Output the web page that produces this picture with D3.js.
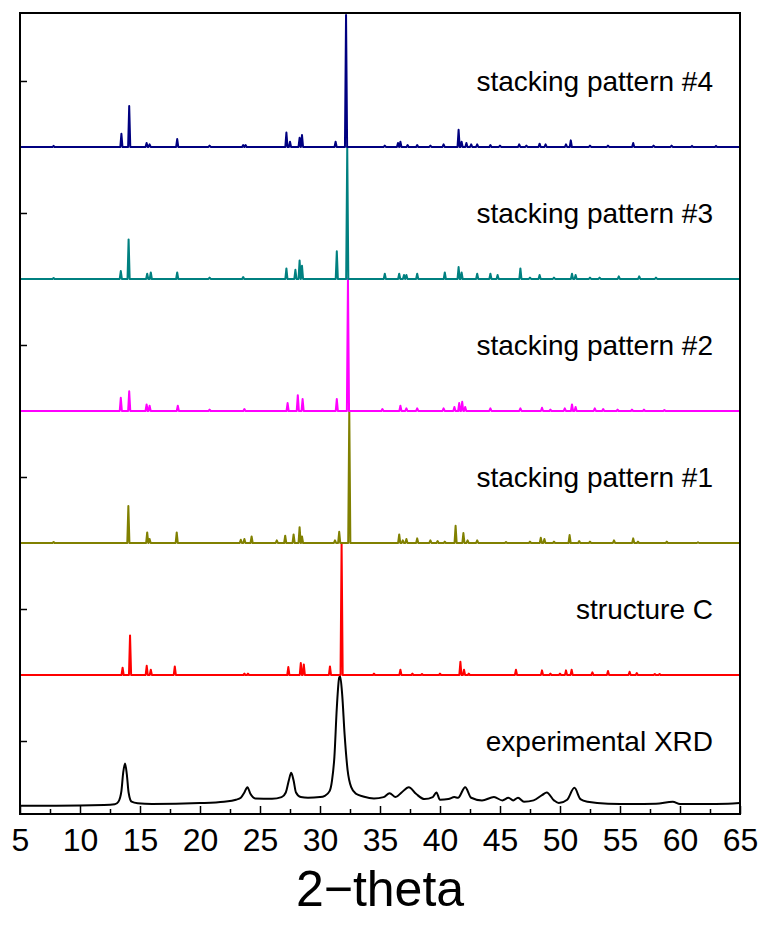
<!DOCTYPE html>
<html>
<head>
<meta charset="utf-8">
<script src="https://cdn.jsdelivr.net/npm/d3@7"></script>
<style>
  body { margin: 0; background: #fff; }
  text { font-family: Arial, "Liberation Sans", sans-serif; }
</style>
</head>
<body>
<div id="chart"></div>
<script>
// x ticks (2-theta)
var majorTicks = [5, 10, 15, 20, 25, 30, 35, 40, 45, 50, 55, 60, 65];
var minorTicks = [7.5, 12.5, 17.5, 22.5, 27.5, 32.5, 37.5, 42.5, 47.5, 52.5, 57.5, 62.5];
var yTicks = [0.5, 1.5, 2.5, 3.5, 4.5, 5.5];

// simulated patterns: [2-theta, relative intensity]
var pattern4Peaks = [[7.8,0.008],[13.45,0.10],[14.1,0.31],[15.55,0.03],[15.8,0.02],[18.1,0.06],[20.8,0.01],[23.6,0.015],[23.8,0.015],
  [27.2,0.11],[27.5,0.04],[28.3,0.07],[28.5,0.09],[31.3,0.04],[32.17,1.0],[35.4,0.01],[36.5,0.03],[36.7,0.04],[37.3,0.015],
  [38.1,0.015],[39.2,0.01],[40.3,0.02],[41.55,0.13],[41.8,0.04],[42.2,0.03],[42.6,0.02],[43.1,0.02],[44.2,0.015],[45.0,0.01],
  [46.6,0.02],[47.2,0.01],[48.3,0.025],[48.8,0.02],[50.5,0.02],[50.9,0.05],[52.5,0.01],[54.0,0.01],[56.1,0.03],[57.8,0.01],
  [59.3,0.01],[61.0,0.008],[63.0,0.008]];
var pattern3Peaks = [[7.8,0.008],[13.4,0.06],[14.05,0.30],[15.6,0.04],[15.9,0.05],[18.1,0.05],[20.8,0.01],[23.6,0.015],[27.2,0.08],
  [27.95,0.07],[28.3,0.14],[28.5,0.10],[31.4,0.21],[32.27,1.0],[35.4,0.04],[36.6,0.04],[37.0,0.03],[37.2,0.03],[38.1,0.04],
  [40.4,0.05],[41.55,0.09],[41.8,0.05],[43.1,0.04],[44.2,0.04],[44.8,0.03],[46.7,0.08],[47.5,0.01],[48.3,0.03],[49.5,0.01],
  [51.0,0.04],[51.3,0.03],[52.5,0.01],[53.3,0.01],[54.9,0.02],[56.6,0.02],[58.0,0.01]];
var pattern2Peaks = [[13.4,0.10],[14.1,0.15],[15.55,0.05],[15.8,0.04],[18.15,0.04],[20.8,0.01],[23.7,0.015],[27.3,0.06],[28.15,0.12],
  [28.55,0.09],[31.4,0.09],[32.33,1.0],[35.2,0.015],[36.7,0.04],[37.2,0.02],[38.1,0.02],[40.3,0.02],[41.2,0.03],[41.6,0.06],
  [41.85,0.07],[42.1,0.03],[44.2,0.02],[46.7,0.02],[48.5,0.025],[49.2,0.01],[50.4,0.02],[51.0,0.05],[51.3,0.03],[52.9,0.02],
  [53.6,0.015],[54.8,0.01],[56.0,0.01],[57.0,0.01],[58.7,0.008]];
var pattern1Peaks = [[7.8,0.008],[14.03,0.28],[15.6,0.08],[15.8,0.03],[18.06,0.08],[23.4,0.025],[23.7,0.03],[24.3,0.05],[26.4,0.02],
  [27.1,0.055],[27.8,0.065],[28.3,0.12],[28.5,0.05],[31.25,0.02],[31.6,0.085],[32.44,1.0],[36.6,0.065],[36.9,0.02],[37.2,0.03],
  [38.1,0.035],[39.2,0.02],[39.8,0.015],[40.4,0.01],[41.3,0.13],[41.95,0.075],[42.3,0.02],[43.1,0.02],[45.5,0.008],[47.5,0.01],
  [48.4,0.04],[48.7,0.03],[49.5,0.01],[50.8,0.06],[51.6,0.015],[52.5,0.01],[54.5,0.02],[56.1,0.035],[56.5,0.01],[58.9,0.01],[61.5,0.005]];
var structureCPeaks = [[13.55,0.055],[14.17,0.30],[15.56,0.07],[15.9,0.04],[17.9,0.065],[23.7,0.01],[24.0,0.01],[27.36,0.06],
  [28.4,0.09],[28.65,0.08],[30.83,0.065],[31.8,1.0],[34.5,0.01],[36.7,0.04],[37.7,0.01],[38.5,0.008],[40.0,0.01],[41.7,0.10],
  [42.0,0.04],[42.4,0.01],[46.33,0.04],[48.5,0.035],[49.2,0.01],[50.0,0.01],[50.5,0.035],[50.97,0.04],[52.7,0.02],[54.0,0.03],
  [55.8,0.025],[56.4,0.015],[57.9,0.008],[58.3,0.008]];

// experimental pattern: [2-theta, intensity]
var experimental = [[5,0.01],[8,0.01],[12,0.015],[12.9,0.02],[13.2,0.04],[13.45,0.12],[13.6,0.26],[13.75,0.33],[13.9,0.25],
  [14.05,0.11],[14.3,0.04],[14.8,0.028],[16,0.023],[20,0.03],[22,0.04],[23.0,0.055],[23.4,0.07],[23.7,0.11],[23.95,0.15],
  [24.2,0.1],[24.6,0.065],[26,0.062],[26.8,0.075],[27.15,0.11],[27.4,0.2],[27.6,0.26],[27.8,0.2],[28.0,0.11],[28.4,0.075],
  [29,0.07],[30.0,0.075],[30.4,0.085],[30.8,0.12],[31.0,0.2],[31.2,0.38],[31.4,0.75],[31.6,0.98],[31.68,0.99],[31.85,0.85],
  [32.05,0.55],[32.3,0.28],[32.6,0.15],[33.0,0.1],[33.6,0.08],[34.5,0.065],[35.3,0.075],[35.8,0.105],[36.3,0.075],
  [36.8,0.11],[37.4,0.15],[38.0,0.1],[38.7,0.06],[39.4,0.075],[39.7,0.11],[40.0,0.055],[40.7,0.06],[41.2,0.075],[41.5,0.07],
  [42.1,0.15],[42.6,0.07],[43.5,0.05],[44.5,0.075],[45.2,0.05],[45.7,0.07],[46.1,0.05],[46.5,0.07],[47.0,0.04],[47.8,0.05],
  [48.5,0.09],[48.9,0.11],[49.5,0.05],[49.9,0.03],[50.6,0.055],[51.2,0.145],[51.7,0.06],[52.3,0.04],[54,0.025],[56,0.023],
  [58,0.025],[59.4,0.04],[60,0.023],[62,0.023],[64,0.025],[65,0.03]];

var seriesNames = ["experimental XRD", "structure C", "stacking pattern #1", "stacking pattern #2", "stacking pattern #3", "stacking pattern #4"];
var seriesColors = ["#000000", "#ff0000", "#808000", "#ff00ff", "#008080", "#000080"];
var seriesOffsets = [0, 1, 2, 3, 4, 5];

function draw() {
  var W = 762, H = 925;
  var pl = 20, pr = 740, pt = 13, pb = 814;
  var spikeHalf = 0.09;

  var svg = d3.select("#chart").append("svg").attr("width", W).attr("height", H);

  var x = d3.scaleLinear().domain([5, 65]).range([pl, pr]);
  var y = d3.scaleLinear().domain([-0.053, 6.015]).range([pb, pt]);

  svg.append("clipPath").attr("id", "plotclip")
    .append("rect").attr("x", pl).attr("y", pt).attr("width", pr - pl).attr("height", pb - pt);

  // turn a stick list into a polyline along the baseline
  function spikes(peaks) {
    var pts = [[5, 0]];
    peaks.forEach(function (p) {
      pts.push([p[0] - spikeHalf, 0], [p[0], p[1]], [p[0] + spikeHalf, 0]);
    });
    pts.push([65, 0]);
    return pts;
  }

  var seriesData = [experimental, spikes(structureCPeaks), spikes(pattern1Peaks), spikes(pattern2Peaks),
    spikes(pattern3Peaks), spikes(pattern4Peaks)];

  var plot = svg.append("g").attr("clip-path", "url(#plotclip)");

  seriesData.forEach(function (pts, i) {
    var off = seriesOffsets[i];
    var line = d3.line()
      .x(function (d) { return x(d[0]); })
      .y(function (d) { return y(d[1] + off); })
      .curve(i === 0 ? d3.curveMonotoneX : d3.curveLinear);
    plot.append("path")
      .datum(pts)
      .attr("d", line)
      .attr("fill", "none")
      .attr("stroke", seriesColors[i])
      .attr("stroke-width", 2)
      .attr("stroke-linejoin", "round");

    svg.append("text")
      .attr("x", 713)
      .attr("y", y(off + 0.5) + 10)
      .attr("text-anchor", "end")
      .attr("font-size", 28)
      .attr("fill", "#000")
      .text(seriesNames[i]);
  });

  // bottom axis, ticks pointing inward
  var xAxis = d3.axisBottom(x).tickValues(majorTicks).tickSizeInner(-8).tickSizeOuter(0).tickPadding(14).tickFormat(d3.format("d"));
  var gx = svg.append("g").attr("transform", "translate(0," + pb + ")").call(xAxis);
  gx.selectAll("text").attr("font-size", 32).attr("fill", "#000").style("font-family", "Arial, 'Liberation Sans', sans-serif");
  gx.selectAll("line").attr("stroke-width", 1.5);
  gx.select(".domain").remove();

  var gxm = svg.append("g").attr("transform", "translate(0," + pb + ")")
    .call(d3.axisBottom(x).tickValues(minorTicks).tickSizeInner(-5).tickSizeOuter(0).tickFormat(""));
  gxm.selectAll("line").attr("stroke-width", 1.5);
  gxm.select(".domain").remove();

  var gy = svg.append("g").attr("transform", "translate(" + pl + ",0)")
    .call(d3.axisLeft(y).tickValues(yTicks).tickSizeInner(-7).tickSizeOuter(0).tickFormat(""));
  gy.selectAll("line").attr("stroke-width", 1.5);
  gy.select(".domain").remove();

  // frame
  svg.append("rect")
    .attr("x", pl).attr("y", pt).attr("width", pr - pl).attr("height", pb - pt)
    .attr("fill", "none").attr("stroke", "#000").attr("stroke-width", 2);

  svg.append("text")
    .attr("x", (pl + pr) / 2)
    .attr("y", 906)
    .attr("text-anchor", "middle")
    .attr("font-size", 50)
    .attr("fill", "#000")
    .text("2\u2212theta");
}

draw();
</script>
</body>
</html>
